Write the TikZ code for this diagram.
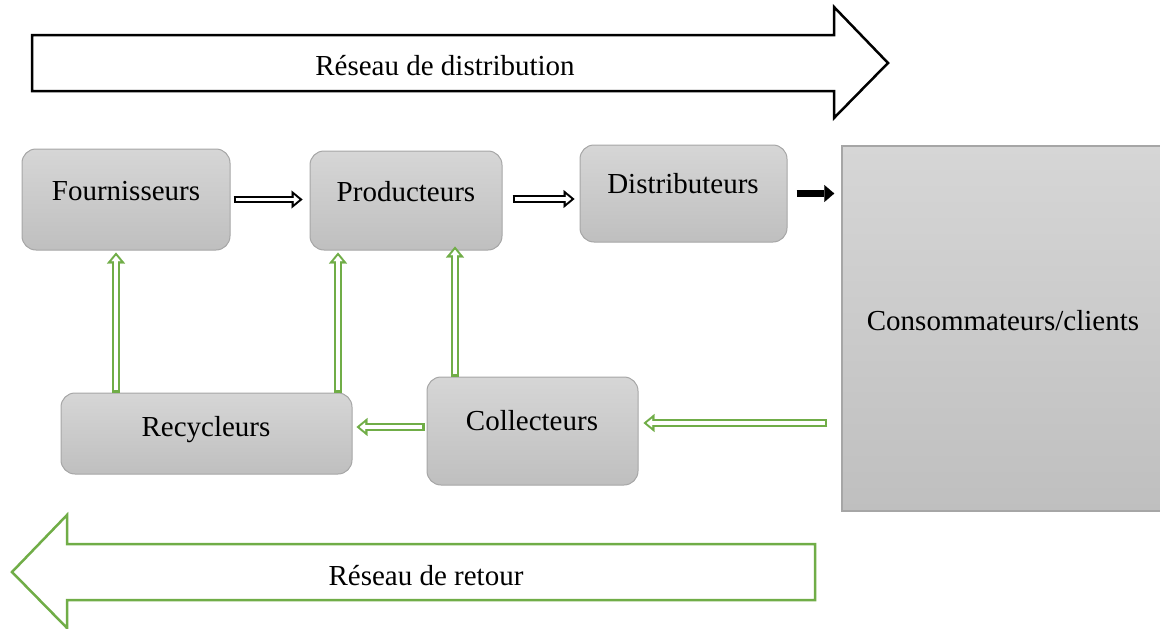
\documentclass[tikz,border=0pt]{standalone}
\usepackage{fontspec}
\setmainfont{Liberation Serif}
\usetikzlibrary{arrows.meta}
\definecolor{grn}{HTML}{70AD47}
\definecolor{boxtop}{HTML}{D6D6D6}
\definecolor{boxbot}{HTML}{BFBFBF}
\definecolor{boxline}{HTML}{A6A6A6}
\newcommand\hollowarrow[3]{%
  \draw[line width=7.6pt, draw=#1, -{Triangle[length=11pt,width=18pt,line width=0.1pt]}] #2 -- #3;
  \draw[line width=3.2pt, draw=white, shorten <=2.2pt, shorten >=3.3pt, -{Triangle[length=5.4pt,width=9pt,line width=0.1pt]}] #2 -- #3;}
\begin{document}
\begin{tikzpicture}[x=1pt,y=-1pt,
  box/.style={draw=boxline, line width=1pt, rounded corners=14pt, top color=boxtop, bottom color=boxbot},
  bigbox/.style={draw=boxline, line width=1.5pt, top color=boxtop, bottom color=boxbot},
  lbl/.style={font=\fontsize{29}{34}\selectfont, anchor=base, inner sep=0pt},
  bigarrow/.style={line width=2.5pt, line join=miter, fill=white}]
\useasboundingbox (0,0) rectangle (1160,629);
% big arrows
\draw[bigarrow, draw=black] (32,35) -- (834,35) -- (834,7) -- (888,63) -- (834,118) -- (834,91) -- (32,91) -- cycle;
\node[lbl] (tdist) at (445,75) {Réseau de distribution};
\draw[bigarrow, draw=grn] (815,544) -- (67,544) -- (67,515) -- (12,572) -- (67,628) -- (67,600) -- (815,600) -- cycle;
\node[lbl] (tret) at (426,585) {Réseau de retour};
% boxes
\node[box, minimum width=208pt, minimum height=101pt] (four) at (126,199.5) {};
\node[box, minimum width=192pt, minimum height=99pt] (prod) at (406,200.5) {};
\node[box, minimum width=207pt, minimum height=97pt] (dist) at (683.5,193.5) {};
\node[bigbox, minimum width=322pt, minimum height=365pt] (cons) at (1003,328.5) {};
\node[box, minimum width=291pt, minimum height=81pt] (rec) at (206.5,433.5) {};
\node[box, minimum width=211pt, minimum height=108pt] (coll) at (532.5,431) {};
% labels
\node[lbl] (tfour) at (126,200) {Fournisseurs};
\node[lbl] (tprod) at (406,201) {Producteurs};
\node[lbl] (tdistb) at (683,193) {Distributeurs};
\node[lbl] (tcons) at (1003,330) {Consommateurs/clients};
\node[lbl] (trec) at (206,436) {Recycleurs};
\node[lbl] (tcoll) at (532,430) {Collecteurs};
% connectors
\coordinate (e1) at ([xshift=-7pt]prod.west |- four.east);
\hollowarrow{black}{([xshift=3pt]four.east)}{(e1)}
\coordinate (s2) at ([xshift=10pt,yshift=1.5pt]prod.east);
\coordinate (e2) at (dist.west |- s2);
\hollowarrow{black}{(s2)}{([xshift=-5pt]e2)}
\coordinate (e3) at (cons.west |- dist.east);
\draw[line width=7pt, -{Triangle[length=10pt,width=17pt,line width=0.1pt]}] ([xshift=9pt]dist.east) -- ([xshift=-7pt]e3);
\coordinate (a4) at ([xshift=-10pt,yshift=-2pt]four.south);
\hollowarrow{grn}{(rec.north -| a4)}{(a4)}
\coordinate (a5) at ([xshift=-68pt,yshift=-2pt]prod.south);
\hollowarrow{grn}{(rec.north -| a5)}{(a5)}
\coordinate (a6) at ([xshift=49pt,yshift=4pt]prod.south);
\hollowarrow{grn}{(coll.north -| a6)}{(a6)}
\coordinate (c7) at ([xshift=-2pt,yshift=4pt]coll.west);
\coordinate (e7) at (rec.east |- c7);
\hollowarrow{grn}{(c7)}{([xshift=4pt]e7)}
\coordinate (c8) at ([xshift=5pt,yshift=8pt]coll.east);
\coordinate (s8) at (cons.west |- c8);
\hollowarrow{grn}{([xshift=-14pt]s8)}{(c8)}
\end{tikzpicture}
\end{document}
